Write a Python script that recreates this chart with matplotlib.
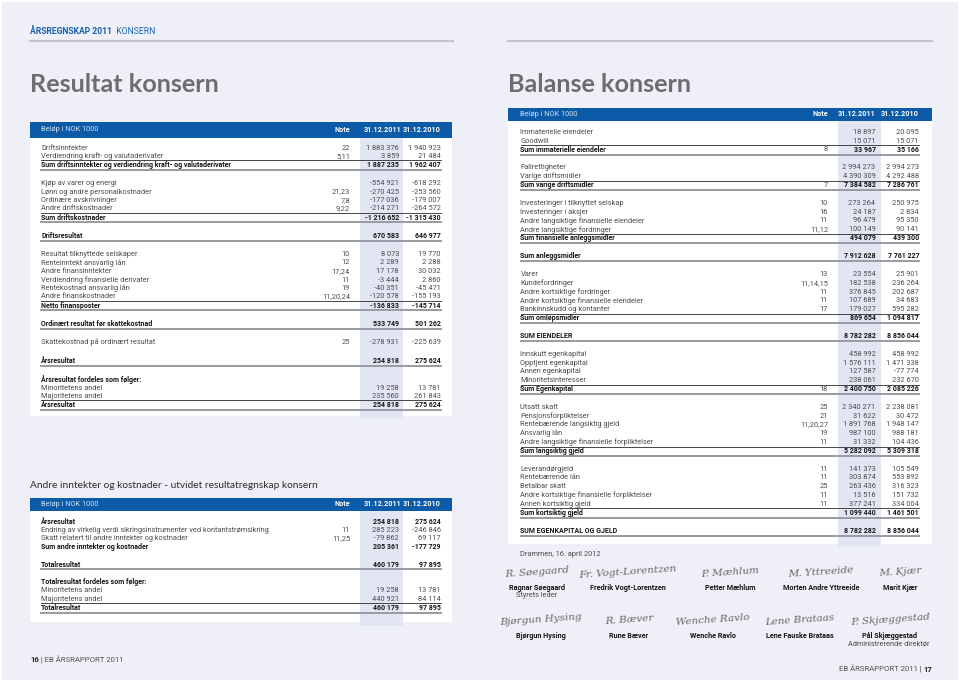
import matplotlib
matplotlib.use("Agg")
import matplotlib.pyplot as plt
from matplotlib import font_manager as fm
from matplotlib.patches import Rectangle

# ---------------- data ----------------
RES_LABELS = [
    "Driftsinntekter", "Verdiendring kraft- og valutaderivater",
    "Sum driftsinntekter og verdiendring kraft- og valutaderivater",
    "Kjøp av varer og energi", "Lønn og andre personalkostnader", "Ordinære avskrivninger",
    "Andre driftskostnader", "Sum driftskostnader",
    "Driftsresultat",
    "Resultat tilknyttede selskaper", "Renteinntekt ansvarlig lån", "Andre finansinntekter",
    "Verdiendring finansielle derivater", "Rentekostnad ansvarlig lån", "Andre finanskostnader",
    "Netto finansposter",
    "Ordinært resultat før skattekostnad",
    "Skattekostnad på ordinært resultat",
    "Årsresultat",
    "Årsresultat fordeles som følger:", "Minoritetens andel", "Majoritetens andel", "Årsresultat",
]
RES_NOTES = ["22", "5,11", "", "", "21,23", "7,8", "9,22", "", "", "10", "12", "17,24", "11",
             "19", "11,20,24", "", "", "25", "", "", "", "", ""]
RES_2011 = [1883376, 3859, 1887235, -554921, -270425, -177036, -214271, -1216652, 670583,
            8073, 2289, 17178, -3444, -40351, -120578, -136833, 533749, -278931, 254818,
            None, 19258, 235560, 254818]
RES_2010 = [1940923, 21484, 1962407, -618292, -253560, -179007, -264572, -1315430, 646977,
            19770, 2288, 30032, 2860, -45471, -155193, -145714, 501262, -225639, 275624,
            None, 13781, 261843, 275624]

OCI_LABELS = [
    "Årsresultat", "Endring av virkelig verdi sikringsinstrumenter ved kontantstrømsikring",
    "Skatt relatert til andre inntekter og kostnader", "Sum andre inntekter og kostnader",
    "Totalresultat",
    "Totalresultat fordeles som følger:", "Minoritetens andel", "Majoritetens andel",
    "Totalresultat",
]
OCI_NOTES = ["", "11", "11,25", "", "", "", "", "", ""]
OCI_2011 = [254818, 285223, -79862, 205361, 460179, None, 19258, 440921, 460179]
OCI_2010 = [275624, -246846, 69117, -177729, 97895, None, 13781, 84114, 97895]

BAL_LABELS = [
    "Immaterielle eiendeler", "Goodwill", "Sum immaterielle eiendeler",
    "Fallrettigheter", "Varige driftsmidler", "Sum varige driftsmidler",
    "Investeringer i tilknyttet selskap", "Investeringer i aksjer",
    "Andre langsiktige finansielle eiendeler", "Andre langsiktige fordringer",
    "Sum finansielle anleggsmidler",
    "Sum anleggsmidler",
    "Varer", "Kundefordringer", "Andre kortsiktige fordringer",
    "Andre kortsiktige finansielle eiendeler", "Bankinnskudd og kontanter", "Sum omløpsmidler",
    "SUM EIENDELER",
    "Innskutt egenkapital", "Opptjent egenkapital", "Annen egenkapital", "Minoritetsinteresser",
    "Sum Egenkapital",
    "Utsatt skatt", "Pensjonsforpliktelser", "Rentebærende langsiktig gjeld", "Ansvarlig lån",
    "Andre langsiktige finansielle forpliktelser", "Sum langsiktig gjeld",
    "Leverandørgjeld", "Rentebærende lån", "Betalbar skatt",
    "Andre kortsiktige finansielle forpliktelser", "Annen kortsiktig gjeld",
    "Sum kortsiktig gjeld",
    "SUM EGENKAPITAL OG GJELD",
]
BAL_NOTES = ["", "", "8", "", "", "7", "10", "16", "11", "11,12", "", "",
             "13", "11,14,15", "11", "11", "17", "", "", "", "", "", "", "18",
             "25", "21", "11,20,27", "19", "11", "", "11", "11", "25", "11", "11", "", ""]
BAL_2011 = [18897, 15071, 33967, 2994273, 4390309, 7384582, 273264, 24187, 96479, 100149,
            494079, 7912628, 23554, 182538, 376845, 107689, 179027, 869654, 8782282,
            458992, 1576111, 127587, 238061, 2400750, 2340271, 31622, 1891768, 987100,
            31332, 5282092, 141373, 303874, 263436, 13516, 377241, 1099440, 8782282]
BAL_2010 = [20095, 15071, 35166, 2994273, 4292488, 7286761, 250975, 2834, 95350, 90141,
            439300, 7761227, 25901, 236264, 202687, 34683, 595282, 1094817, 8856044,
            458992, 1471338, -77774, 232670, 2085226, 2238081, 30472, 1948147, 988181,
            104436, 5309318, 105549, 553892, 316323, 151732, 334004, 1461501, 8856044]

SIGNERS_1 = ["Ragnar Søegaard", "Fredrik Vogt-Lorentzen", "Petter Mæhlum",
             "Morten Andre Yttreeide", "Marit Kjær"]
SIGNERS_2 = ["Bjørgun Hysing", "Rune Bæver", "Wenche Ravlo", "Lene Fauske Brataas",
             "Pål Skjæggestad"]
SIGN_SCRIBBLE_1 = ["R. Søegaard", "Fr. Vogt-Lorentzen", "P. Mæhlum", "M. Yttreeide", "M. Kjær"]
SIGN_SCRIBBLE_2 = ["Bjørgun Hysing", "R. Bæver", "Wenche Ravlo", "Lene Brataas", "P. Skjæggestad"]

# ---------------- row styles (n normal, b bold, s sum: rule above+below, t total: rule below)
RES_KIND = list("nns" "nnnns" "t" "nnnnnns" "t" "n" "t" "bnns")
RES_BREAKS = {2, 7, 8, 15, 16, 17, 18}
OCI_KIND = list("bnnb" "t" "bnns")
OCI_BREAKS = {3, 4}
BAL_KIND = list("nns" "nns" "nnnns" "t" "nnnnns" "t" "nnnns" "nnnnns" "nnnnns" "t")
BAL_BREAKS = {2, 5, 10, 11, 17, 18, 23, 29, 35}

avail = {f.name for f in fm.fontManager.ttflist}
if "Liberation Sans Narrow" in avail:
    BODY, FS, FSB = "Liberation Sans Narrow", 5.6, 5.3
else:
    BODY, FS, FSB = "Roboto", 5.3, 5.0

BG = "#eeeff7"
BAND = "#e2e5f2"
BLUE = "#0b5ba8"
TXT = "#4d4d4f"
DARK = "#161616"
RULE_GRAY = "#9a9aa3"


def fmt(v):
    if v is None:
        return ""
    return f"{v:,}".replace(",", " ")


def header_bar(ax, x0, x1, y0, y1, xl, xn, xc1, xc2):
    ax.add_patch(Rectangle((x0, y0), x1 - x0, y1 - y0, color=BLUE, lw=0, zorder=2))
    ym = (y0 + y1) / 2
    ax.text(xl, ym, "Beløp i NOK 1000", family=BODY, fontsize=FS, color="#cfe0f3",
            va="center", ha="left", zorder=3)
    for x, s in [(xn, "Note"), (xc1, "31.12.2011"), (xc2, "31.12.2010")]:
        ax.text(x, ym, s, family=BODY, fontsize=FSB * 1.05, weight="bold", color="white",
                va="center", ha="right", zorder=3)


def table(ax, labels, notes, v1, v2, kinds, breaks, y0, step, gap, xl, xn, xc1, xc2):
    y = y0
    for i, lab in enumerate(labels):
        k = kinds[i]
        bold = k in "bst"
        col = DARK if bold else TXT
        w = "bold" if bold else "normal"
        fs = FSB if bold else FS
        ax.text(xl, y, lab, family=BODY, fontsize=fs, weight=w, color=col, va="center", zorder=3)
        ax.text(xn, y, notes[i], family=BODY, fontsize=FS, color=TXT, va="center", ha="right",
                zorder=3)
        ax.text(xc1, y, fmt(v1[i]), family=BODY, fontsize=fs, weight=w, color=col,
                va="center", ha="right", zorder=3)
        ax.text(xc2, y, fmt(v2[i]), family=BODY, fontsize=fs, weight=w, color=col,
                va="center", ha="right", zorder=3)
        if k == "s":
            ax.plot([xl, xc2], [y - step * 0.53] * 2, color="#2a2a2a", lw=0.6, zorder=3)
        if k in "st":
            ax.plot([xl, xc2], [y + step * 0.55] * 2, color=RULE_GRAY, lw=1.4, zorder=3)
        y += step + (gap if i in breaks else 0)


def two_part(ax, x, y, first, second, fs, color="#555", ha="left"):
    if ha == "left":
        t = ax.text(x, y, first, family=BODY, fontsize=fs, weight="bold", color="#222",
                    va="center", ha="left")
        ax.annotate(second, xy=(1, 0.5), xycoords=t, family=BODY, fontsize=fs,
                    color=color, va="center", ha="left")
    else:
        t = ax.text(x, y, second, family=BODY, fontsize=fs, weight="bold", color="#222",
                    va="center", ha="right")
        ax.annotate(first, xy=(0, 0.5), xycoords=t, family=BODY, fontsize=fs, color=color,
                    va="center", ha="right")


fig = plt.figure(figsize=(9.6, 6.82), dpi=100)
fig.patch.set_facecolor("white")
ax = fig.add_axes([0, 0, 1, 1])
ax.set_xlim(0, 960)
ax.set_ylim(682, 0)
ax.axis("off")
ax.add_patch(Rectangle((2, 2), 956, 678, color=BG, lw=0, zorder=0))

# running head
t = ax.text(30, 32, "ÅRSREGNSKAP 2011", family=BODY, fontsize=6.2, weight="bold",
            color="#1560ad", va="center")
ax.annotate("  KONSERN", xy=(1, 0.5), xycoords=t, family=BODY, fontsize=6.2,
            color="#1a66b0", va="center")
ax.plot([30, 453], [40.5, 40.5], color="#c3c4cc", lw=1.6, zorder=1)
ax.plot([508, 932], [40.5, 40.5], color="#c3c4cc", lw=1.6, zorder=1)

# page titles
ax.text(30, 92, "Resultat konsern", family="Lato", fontsize=18.2, weight="bold",
        color="#6c6d71", va="baseline")
ax.text(508, 92, "Balanse konsern", family="Lato", fontsize=18.2, weight="bold",
        color="#6c6d71", va="baseline")

# ---- left: income statement
L = dict(xl=41, xn=350, xc1=399, xc2=441)
ax.add_patch(Rectangle((30, 122), 422, 294, color="white", lw=0, zorder=1))
ax.add_patch(Rectangle((360, 137), 42.5, 282, color=BAND, lw=0, zorder=1.5))
header_bar(ax, 30, 452, 122, 137.5, 41, 350, 401, 441)
table(ax, RES_LABELS, RES_NOTES, RES_2011, RES_2010, RES_KIND, RES_BREAKS,
      148, 8.5, 10, **L)

# ---- left: other comprehensive income
ax.text(30, 485, "Andre inntekter og kostnader - utvidet resultatregnskap konsern",
        family="Lato", fontsize=7.3, color="#2b2b2d", va="center")
ax.add_patch(Rectangle((30, 497.7), 422, 124, color="white", lw=0, zorder=1))
ax.add_patch(Rectangle((360, 510), 42.5, 116, color=BAND, lw=0, zorder=1.5))
header_bar(ax, 30, 452, 497.7, 510.7, 41, 350, 401, 441)
table(ax, OCI_LABELS, OCI_NOTES, OCI_2011, OCI_2010, OCI_KIND, OCI_BREAKS,
      521.5, 8.6, 8.8, **L)

two_part(ax, 30, 660, "16", " | EB ÅRSRAPPORT 2011", 5.6)

# ---- right: balance sheet
R = dict(xl=520.5, xn=828, xc1=875.5, xc2=919)
ax.add_patch(Rectangle((508, 108), 424, 436, color="white", lw=0, zorder=1))
ax.add_patch(Rectangle((838, 120), 42.5, 427, color=BAND, lw=0, zorder=1.5))
header_bar(ax, 508, 932, 108.3, 120.7, 520.5, 828, 876, 919)
table(ax, BAL_LABELS, BAL_NOTES, BAL_2011, BAL_2010, BAL_KIND, BAL_BREAKS,
      132.3, 8.75, 9.3, **R)

ax.text(520.5, 554, "Drammen, 16. april 2012", family=BODY, fontsize=FS, color=TXT, va="center")

# signatures
xs1 = [537, 628, 730, 821, 900]
xs2 = [541, 629, 713, 800, 890]
for names, scrib, xs, yname, ysig in [(SIGNERS_1, SIGN_SCRIBBLE_1, xs1, 587.7, 572),
                                      (SIGNERS_2, SIGN_SCRIBBLE_2, xs2, 635.7, 620)]:
    for n, s, x in zip(names, scrib, xs):
        ax.text(x, ysig, s, family="DejaVu Serif", style="italic", fontsize=7.5,
                color="#505050", va="center", ha="center", rotation=4, alpha=0.85)
        ax.text(x, yname, n, family=BODY, fontsize=FSB * 1.05, weight="bold", color=DARK,
                va="center", ha="center")
ax.text(537, 595.5, "Styrets leder", family=BODY, fontsize=FS, color=TXT, va="center", ha="center")
ax.text(889, 643.5, "Administrerende direktør", family=BODY, fontsize=FS, color=TXT,
        va="center", ha="center")

two_part(ax, 932, 669, "EB ÅRSRAPPORT 2011 | ", "17", 5.6, ha="right")

fig.savefig("out.png", dpi=100, facecolor=fig.get_facecolor())
